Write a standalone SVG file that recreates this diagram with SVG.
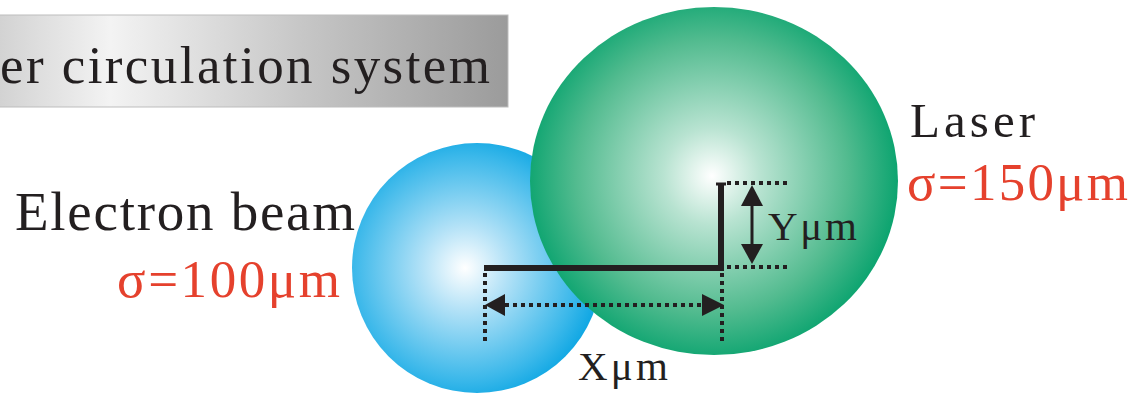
<svg xmlns="http://www.w3.org/2000/svg" width="1139" height="393" viewBox="0 0 1139 393">
<defs>
<linearGradient id="gBox" x1="0" y1="0" x2="1" y2="0">
<stop offset="0" stop-color="#d2d2d2"/>
<stop offset="0.22" stop-color="#f3f3f3"/>
<stop offset="0.6" stop-color="#c6c6c6"/>
<stop offset="1" stop-color="#9b9b9b"/>
</linearGradient>
<radialGradient id="gBlue" cx="465" cy="268" r="140" gradientUnits="userSpaceOnUse">
<stop offset="0" stop-color="#ffffff"/>
<stop offset="0.3" stop-color="#b4e2f7"/>
<stop offset="0.8" stop-color="#3bb8ea"/>
<stop offset="1" stop-color="#08a4e2"/>
</radialGradient>
<radialGradient id="gGreen" cx="712" cy="176" r="195" gradientUnits="userSpaceOnUse">
<stop offset="0" stop-color="#ffffff"/>
<stop offset="0.25" stop-color="#b8e3d1"/>
<stop offset="0.7" stop-color="#52bb8f"/>
<stop offset="1" stop-color="#00a06a"/>
</radialGradient>
</defs>
<style>
.t{font-family:"Liberation Serif","Times New Roman",serif;fill:#231f20}
.r{font-family:"Liberation Serif","Times New Roman",serif;fill:#e5412d}
.dot{stroke:#231f20;stroke-width:4;stroke-dasharray:4 4;fill:none}
.head{fill:#231f20}
</style>
<g id="title">
<rect x="-2" y="15" width="510" height="92" fill="url(#gBox)" stroke="#bdbdbd" stroke-width="1"/>
<text class="t" x="0" y="83" font-size="53" textLength="490" lengthAdjust="spacing">er circulation system</text>
</g>
<g id="electron-beam">
<circle cx="477" cy="268" r="125" fill="url(#gBlue)"/>
<text class="t" x="15" y="230" font-size="55" textLength="340" lengthAdjust="spacing">Electron beam</text>
<text class="r" x="117" y="297" font-size="53" textLength="223" lengthAdjust="spacing">σ=100μm</text>
</g>
<g id="laser">
<ellipse cx="714" cy="181" rx="184" ry="174" fill="url(#gGreen)"/>
<text class="t" x="910" y="137" font-size="49" textLength="125" lengthAdjust="spacing">Laser</text>
<text class="r" x="907" y="200" font-size="53" textLength="221" lengthAdjust="spacing">σ=150μm</text>
</g>
<g id="connectors">
<polyline points="484,268 721,268 721,183" fill="none" stroke="#231f20" stroke-width="6"/>
<line x1="716" y1="184" x2="726" y2="184" stroke="#231f20" stroke-width="3"/>
<line class="dot" x1="727" y1="183" x2="790" y2="183"/>
<line class="dot" x1="727" y1="267" x2="790" y2="267"/>
<line class="dot" x1="485" y1="273" x2="485" y2="342"/>
<line class="dot" x1="722" y1="273" x2="722" y2="342"/>
<line class="dot" x1="505" y1="305" x2="702" y2="305"/>
<path class="head" d="M505,294 L485,305 L505,316 Z"/>
<path class="head" d="M702,294 L724,305 L702,316 Z"/>
<line x1="752" y1="200" x2="752" y2="248" stroke="#231f20" stroke-width="3"/>
<path class="head" d="M741,206 L752,185 L763,206 Z"/>
<path class="head" d="M741,244 L752,264 L763,244 Z"/>
<text class="t" x="768" y="240" font-size="41" textLength="89" lengthAdjust="spacing">Yμm</text>
<text class="t" x="578" y="380" font-size="41" textLength="90" lengthAdjust="spacing">Xμm</text>
</g>
</svg>
